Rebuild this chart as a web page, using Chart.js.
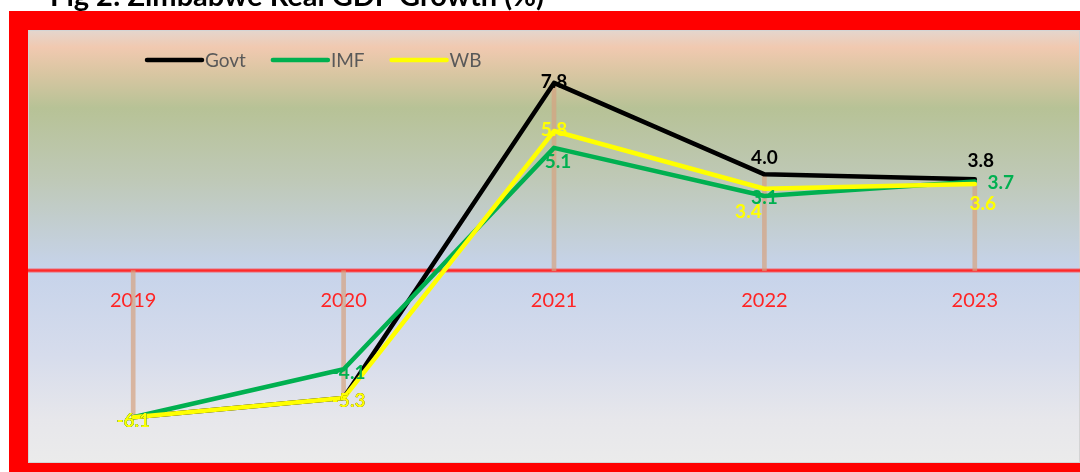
<!DOCTYPE html>
<html>
<head>
<meta charset="utf-8">
<script src="https://cdn.jsdelivr.net/npm/chart.js@4.4.1/dist/chart.umd.min.js"></script>
<style>
    html, body { margin: 0; padding: 0; background: #fff; overflow: hidden; }
    #wrap { position: relative; width: 1080px; height: 472px; }
    #title {
        position: absolute; left: 50px; top: -20px;
        font: bold 29px Lato, sans-serif; line-height: 29px; color: #000;
        white-space: nowrap; z-index: 2;
    }
    canvas { position: absolute; left: 0; top: 0; }
</style>
</head>
<body>
<div id="wrap">
    <div id="title">Fig 2: Zimbabwe Real GDP Growth (%)</div>
    <canvas id="gdpChart" width="1080" height="472"></canvas>
</div>
<script>
// ===== Chart data =====
const years = ['2019', '2020', '2021', '2022', '2023'];
const govtGrowth = [-6.1, -5.3, 7.8, 4.0, 3.8];
const imfGrowth = [-6.1, -4.1, 5.1, 3.1, 3.7];
const wbGrowth = [-6.1, -5.3, 5.8, 3.4, 3.6];
const yMin = -8;
const yMax = 10;

// Drop lines run from the axis to the furthest point of the three series
const dropLines = years.map((_, i) => {
    const vals = [govtGrowth[i], imfGrowth[i], wbGrowth[i]];
    const far = vals.reduce((a, b) => (Math.abs(b) > Math.abs(a) ? b : a));
    return [0, far];
});

// Label nudges (px) per point, same order as the data.
// Overlapping labels share a nudge so the WB label sits right on top.
const labelShift = {
    Govt: [[0, 4], [5, 3], [0, -1], [0, -16], [6, -18]],
    IMF: [[0, 4], [5, 4], [4, 14], [0, 2], [26, 1]],
    WB: [[0, 4], [5, 3], [0, -1], [-16, 23], [8, 20]]
};

const FONT = 'Lato, "Open Sans", sans-serif';

// ===== Plugins =====
const frameBackground = {
    id: 'frameBackground',
    beforeDraw(chart) {
        const { ctx, chartArea: a } = chart;
        ctx.save();
        ctx.fillStyle = '#ff0000';
        ctx.fillRect(9, 11, chart.width - 9, chart.height - 11);

        const g = ctx.createLinearGradient(0, a.top, 0, a.bottom);
        g.addColorStop(0.0, '#e4d6ce');
        g.addColorStop(0.04, '#f1c9b0');
        g.addColorStop(0.10, '#d9c6a2');
        g.addColorStop(0.18, '#b7c296');
        g.addColorStop(0.35, '#bfc9b8');
        g.addColorStop(0.55, '#c6d3ea');
        g.addColorStop(0.75, '#d6dcec');
        g.addColorStop(0.90, '#e7e7eb');
        g.addColorStop(1.0, '#ebebeb');
        ctx.fillStyle = g;
        ctx.fillRect(a.left, a.top, a.right - a.left, a.bottom - a.top);

        ctx.strokeStyle = '#d4d4d4';
        ctx.lineWidth = 1;
        ctx.strokeRect(a.left + 0.5, a.top + 0.5, a.right - a.left - 1, a.bottom - a.top - 1);
        ctx.restore();
    },
    beforeDatasetsDraw(chart) {
        // zero line + category labels sitting under it
        const { ctx, chartArea: a, scales } = chart;
        const y0 = scales.y.getPixelForValue(0);
        ctx.save();
        ctx.strokeStyle = 'rgba(255, 60, 70, 0.35)';
        ctx.lineWidth = 5;
        ctx.beginPath();
        ctx.moveTo(a.left, y0);
        ctx.lineTo(a.right, y0);
        ctx.stroke();
        ctx.strokeStyle = '#ff2a2a';
        ctx.lineWidth = 2.5;
        ctx.stroke();

        ctx.fillStyle = '#ff2424';
        ctx.font = '20px ' + FONT;
        ctx.textAlign = 'center';
        ctx.textBaseline = 'middle';
        years.forEach((yr, i) => {
            ctx.fillText(yr, scales.x.getPixelForValue(i), y0 + 30);
        });
        ctx.restore();
    }
};

const valueLabels = {
    id: 'valueLabels',
    afterDatasetsDraw(chart) {
        const { ctx } = chart;
        ctx.save();
        ctx.font = 'bold 19px ' + FONT;
        ctx.textAlign = 'center';
        ctx.textBaseline = 'middle';
        chart.data.datasets.forEach((ds, di) => {
            if (ds.type === 'bar') return;
            const meta = chart.getDatasetMeta(di);
            const shifts = labelShift[ds.label];
            ctx.fillStyle = ds.borderColor;
            meta.data.forEach((pt, i) => {
                const s = shifts[i];
                ctx.fillText(ds.data[i].toFixed(1), pt.x + s[0], pt.y + s[1]);
            });
        });
        ctx.restore();
    }
};

const lineLegend = {
    id: 'lineLegend',
    afterDraw(chart) {
        const { ctx } = chart;
        let x = 147;
        const y = 60;
        ctx.save();
        ctx.font = '19px ' + FONT;
        ctx.textAlign = 'left';
        ctx.textBaseline = 'middle';
        chart.data.datasets.forEach(ds => {
            if (ds.type === 'bar') return;
            ctx.strokeStyle = ds.borderColor;
            ctx.lineWidth = 4.5;
            ctx.lineCap = 'round';
            ctx.beginPath();
            ctx.moveTo(x, y);
            ctx.lineTo(x + 55, y);
            ctx.stroke();
            ctx.fillStyle = '#595959';
            ctx.fillText(ds.label, x + 58, y + 1);
            x += 58 + ctx.measureText(ds.label).width + 27;
        });
        ctx.restore();
    }
};

// ===== Chart =====
const lineStyle = {
    type: 'line',
    borderWidth: 4.5,
    pointRadius: 0,
    pointHoverRadius: 0,
    tension: 0,
    borderJoinStyle: 'round',
    borderCapStyle: 'round',
    fill: false
};

new Chart(document.getElementById('gdpChart'), {
    data: {
        labels: years,
        datasets: [
            { ...lineStyle, label: 'Govt', data: govtGrowth, borderColor: '#000000', order: 3 },
            { ...lineStyle, label: 'IMF', data: imfGrowth, borderColor: '#00b050', order: 2 },
            { ...lineStyle, label: 'WB', data: wbGrowth, borderColor: '#ffff00', order: 1 },
            {
                type: 'bar',
                label: 'drop',
                data: dropLines,
                backgroundColor: 'rgba(214, 162, 128, 0.7)',
                barThickness: 4,
                borderWidth: 0,
                order: 10
            }
        ]
    },
    options: {
        responsive: false,
        animation: false,
        events: [],
        layout: { padding: { left: 28, top: 30, right: 0, bottom: 9 } },
        scales: {
            x: { display: false, offset: true },
            y: { display: false, min: yMin, max: yMax }
        },
        plugins: {
            legend: { display: false },
            title: { display: false },
            tooltip: { enabled: false }
        }
    },
    plugins: [frameBackground, valueLabels, lineLegend]
});
</script>
</body>
</html>
